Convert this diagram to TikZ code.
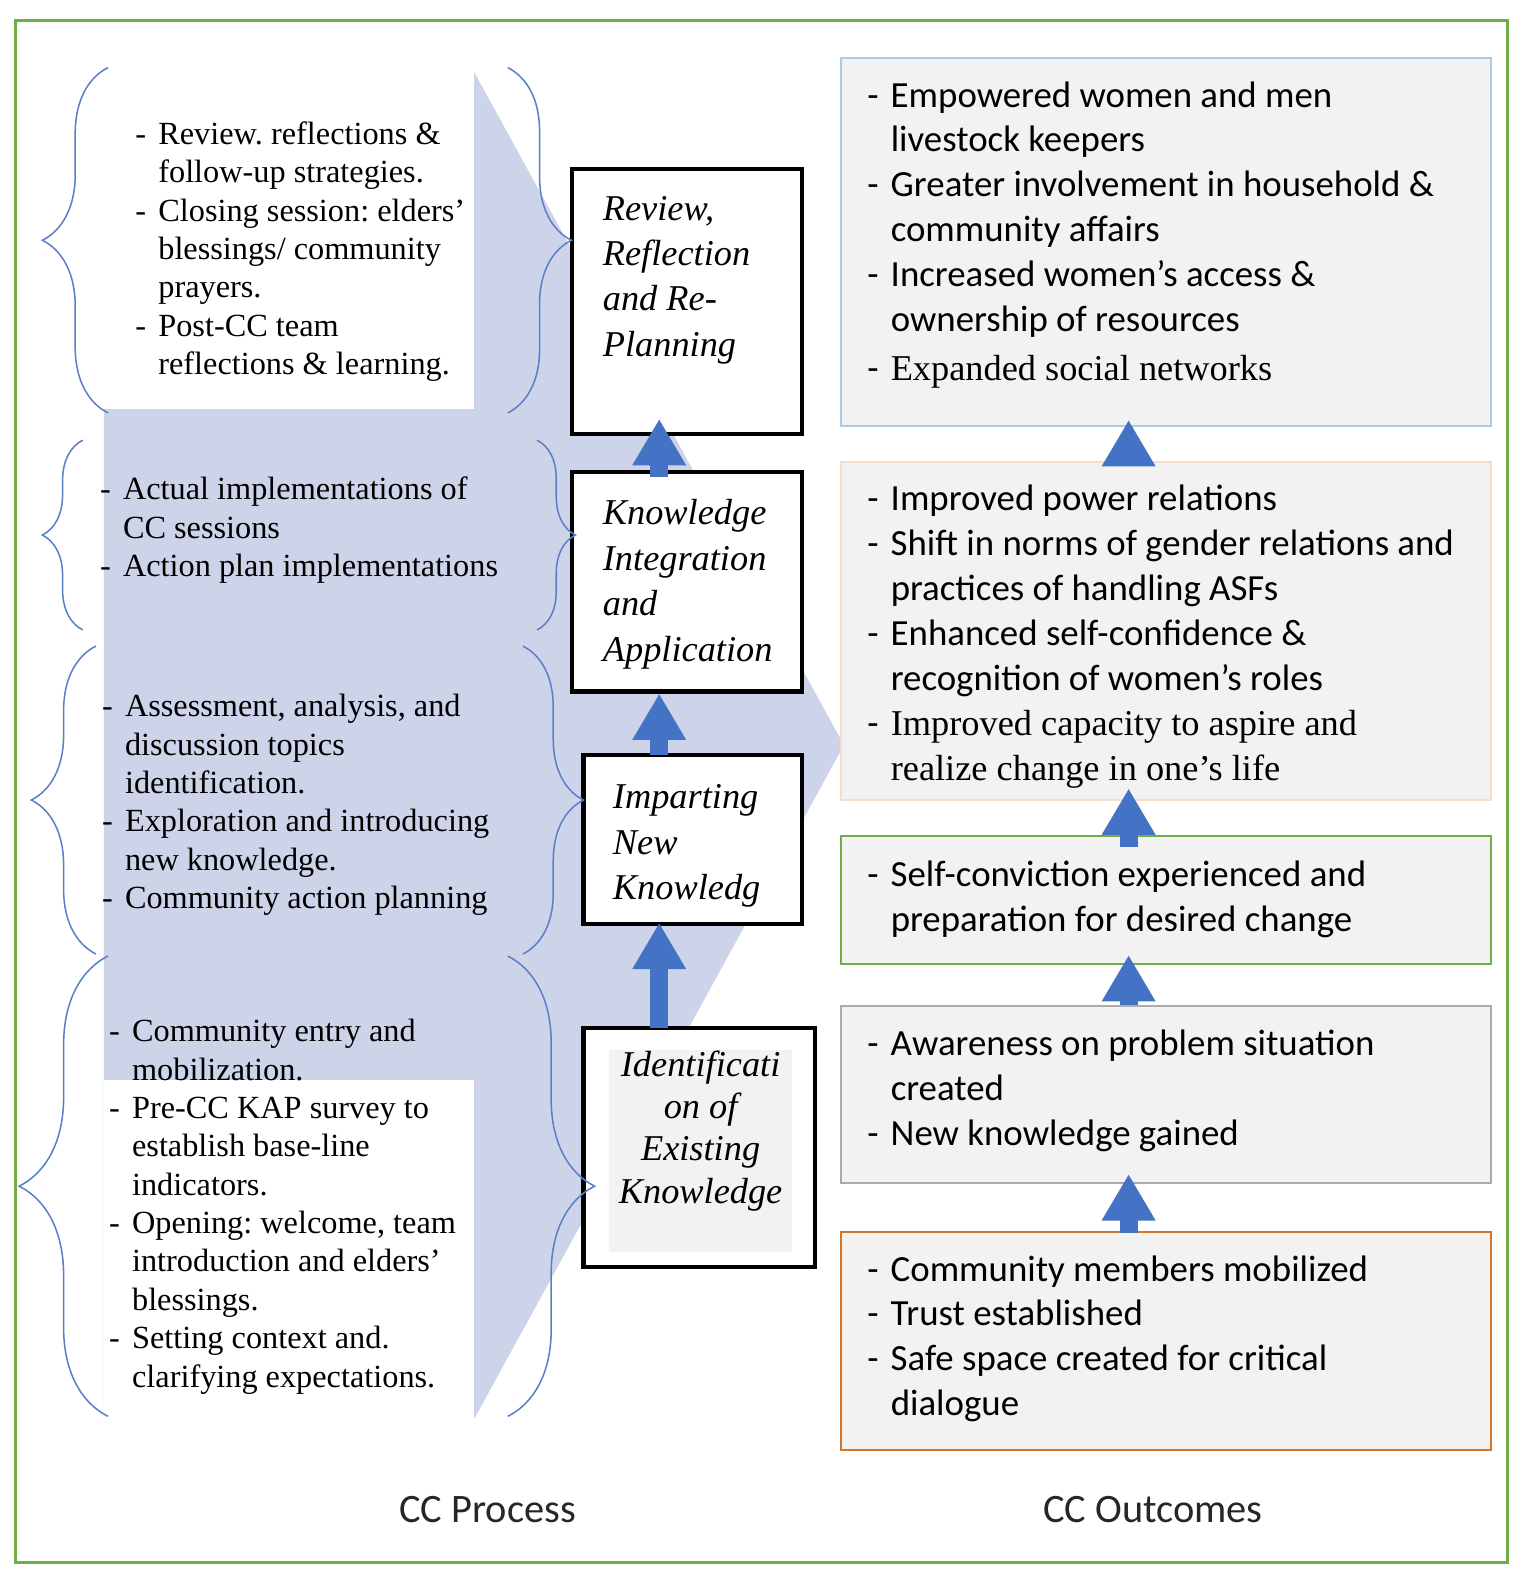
\documentclass[tikz,border=0pt]{standalone}
\usepackage{fontspec}
\setmainfont{Liberation Serif}
\newfontfamily\calfont{Carlito}
\usepackage{tikz}
\usetikzlibrary{arrows.meta,calc,decorations.pathreplacing}
\frenchspacing

\definecolor{chevfill}{HTML}{CDD4EA}
\definecolor{arrowblue}{HTML}{4472C4}
\definecolor{braceblue}{HTML}{5B7FC7}
\definecolor{framegreen}{HTML}{70AD47}
\definecolor{boxgray}{HTML}{F2F2F2}
\definecolor{lineblue}{HTML}{A9CBE6}
\definecolor{linepeach}{HTML}{F6DCCB}
\definecolor{linegray}{HTML}{ABABAB}
\definecolor{lineorange}{HTML}{D0772F}

\begin{document}
\begin{tikzpicture}[x=1pt, y=-1pt, >=Latex,
	lefttxt/.style={anchor=base west, inner sep=0pt, font=\fontsize{32}{38}\selectfont},
	righttxt/.style={anchor=base west, inner sep=0pt, font=\calfont\fontsize{36.5}{44.5}\selectfont},
	stagebox/.style={draw=black, line width=4pt, fill=white, inner sep=0pt},
	stagetxt/.style={anchor=base west, inner sep=0pt, font=\itshape\fontsize{36}{45}\selectfont},
	outbox/.style={fill=boxgray, line width=2pt, inner sep=0pt, minimum width=644pt},
	uparrow/.style={draw=arrowblue, line width=18pt, -{Triangle[width=50pt,length=46pt]}},
	bracel/.style={draw=braceblue, line width=1.5pt, decorate, decoration={brace, amplitude=#1}},
	label/.style={font=\calfont\fontsize{40}{48}\selectfont, text=black!85}]
	
	% ----- page and frame
	\fill[white] (0,0) rectangle (1520.6,1568.1);
	\useasboundingbox (0,0) rectangle (1520.6,1568.1);
	\draw[framegreen, line width=3pt] (15,20) rectangle (1493,1548);
	
	% ----- LEFT: process chevron with the two white text panels
	\fill[chevfill] (103,72) -- (470,72) -- (836,738) -- (470,1405) -- (103,1405) -- cycle;
	\fill[white] (75,60) rectangle (470,405);
	\fill[white] (103,1070) rectangle (470,1410);
	
	% stage boxes
	\node[stagebox, minimum width=227pt, minimum height=263pt] (rev) at (680.5,298.5) {};
	\node[stagebox, minimum width=227pt, minimum height=217pt] (kia) at (680.5,576.5) {};
	\node[stagebox, minimum width=216pt, minimum height=167pt] (inf) at (686,831.5) {};
	\node[stagebox, minimum width=229pt, minimum height=237pt] (ide) at (692.5,1136.5) {};
	\fill[boxgray] (603,1040) rectangle (785,1240);
	
	\node[stagetxt] (revtxt) at (597,218) {\begin{tabular}[t]{@{}l@{}}
			Review,\\ Reflection\\ and Re-\\ Planning\end{tabular}};
	\node[stagetxt] (kiatxt) at (597,520) {\begin{tabular}[t]{@{}l@{}}
			Knowledge\\ Integration\\ and\\ Application\end{tabular}};
	\node[stagetxt] (inftxt) at (607,801) {\begin{tabular}[t]{@{}l@{}}
			Imparting\\ New\\ Knowledg\end{tabular}};
	\node[stagetxt, anchor=base, font=\itshape\fontsize{36}{42}\selectfont] (idetxt) at (694,1066)
	{\begin{tabular}[t]{@{}c@{}}
			Identificati\\ on of\\ Existing\\ Knowledge\end{tabular}};
	
	% braces round each group of activities
	\draw[bracel=65pt] (107,409) -- (107,67);
	\draw[bracel=63pt] (503,67) -- (503,409);
	\draw[bracel=40pt] (82,624) -- (82,436);
	\draw[bracel=38pt] (532,436) -- (532,624);
	\draw[bracel=64pt] (95,945) -- (95,640);
	\draw[bracel=60pt] (518,640) -- (518,945);
	\draw[bracel=88pt] (107,1403) -- (107,947);
	\draw[bracel=86pt] (503,947) -- (503,1403);
	
	% activity lists
	\node[lefttxt] (acta) at (134,143) {\begin{tabular}[t]{@{}l@{\hspace{12pt}}l@{}}
			-& Review. reflections \&\\
			& follow-up strategies.\\
			-& Closing session: elders’\\
			& blessings/ community\\
			& prayers.\\
			-& Post-CC team\\
			& reflections \& learning.\end{tabular}};
	\node[lefttxt] (actb) at (99,495) {\begin{tabular}[t]{@{}l@{\hspace{12pt}}l@{}}
			-& Actual implementations of\\
			& CC sessions\\
			-& Action plan implementations\end{tabular}};
	\node[lefttxt] (actc) at (101,710) {\begin{tabular}[t]{@{}l@{\hspace{12pt}}l@{}}
			-& Assessment, analysis, and\\
			& discussion topics\\
			& identification.\\
			-& Exploration and introducing\\
			& new knowledge.\\
			-& Community action planning\end{tabular}};
	\node[lefttxt] (actd) at (108,1032) {\begin{tabular}[t]{@{}l@{\hspace{12pt}}l@{}}
			-& Community entry and\\
			& mobilization.\\
			-& Pre-CC KAP survey to\\
			& establish base-line\\
			& indicators.\\
			-& Opening: welcome, team\\
			& introduction and elders’\\
			& blessings.\\
			-& Setting context and.\\
			& clarifying expectations.\end{tabular}};
	
	% arrows between the stages
	\coordinate (axL) at (653,0);
	\draw[uparrow, shorten >=-17pt, shorten <=-7pt] (kia.north -| axL) -- (rev.south -| axL);
	\draw[uparrow, shorten >=0pt, shorten <=-2pt] (inf.north -| axL) -- (kia.south -| axL);
	\draw[uparrow, shorten >=-3pt, shorten <=-2pt] (ide.north -| axL) -- (inf.south -| axL);
	
	% ----- RIGHT: outcome boxes
	\node[outbox, draw=lineblue, minimum height=365pt] (outa) at (1155,239.5) {};
	\node[outbox, draw=linepeach, minimum height=334pt] (outb) at (1155,625) {};
	\node[outbox, draw=framegreen, minimum height=127pt] (outc) at (1155,891.5) {};
	\node[outbox, draw=linegray, minimum height=175pt] (outd) at (1155,1084.5) {};
	\node[outbox, draw=lineorange, minimum height=216pt] (oute) at (1155,1328) {};
	
	\node[righttxt] (resa) at (859,106) {\begin{tabular}[t]{@{}l@{\hspace{12pt}}l@{}}
			-& Empowered women and men\\
			& livestock keepers\\
			-& Greater involvement in household \&\\
			& community affairs\\
			-& Increased women’s access \&\\
			& ownership of resources\\[4pt]
			-& {\rmfamily\fontsize{36}{44.5}\selectfont Expanded social networks}\end{tabular}};
	\node[righttxt] (resb) at (859,506) {\begin{tabular}[t]{@{}l@{\hspace{12pt}}l@{}}
			-& Improved power relations\\
			-& Shift in norms of gender relations and\\
			& practices of handling ASFs\\
			-& Enhanced self-confidence \&\\
			& recognition of women’s roles\\
			-& {\rmfamily\fontsize{36}{44.5}\selectfont Improved capacity to aspire and}\\
			& {\rmfamily\fontsize{36}{44.5}\selectfont realize change in one’s life}\end{tabular}};
	\node[righttxt] (resc) at (859,878) {\begin{tabular}[t]{@{}l@{\hspace{12pt}}l@{}}
			-& Self-conviction experienced and\\
			& preparation for desired change\end{tabular}};
	\node[righttxt] (resd) at (859,1046) {\begin{tabular}[t]{@{}l@{\hspace{12pt}}l@{}}
			-& Awareness on problem situation\\
			& created\\
			-& New knowledge gained\end{tabular}};
	\node[righttxt] (rese) at (859,1269) {\begin{tabular}[t]{@{}l@{\hspace{12pt}}l@{}}
			-& Community members mobilized\\
			-& Trust established\\
			-& Safe space created for critical\\
			& dialogue\end{tabular}};
	
	% arrows between the outcomes
	\coordinate (axR) at (1118,0);
	\draw[uparrow, shorten >=-7pt, shorten <=-20pt] (outb.north -| axR) -- (outa.south -| axR);
	\draw[uparrow, shorten >=-12pt, shorten <=-12pt] (outc.north -| axR) -- (outb.south -| axR);
	\draw[uparrow, shorten >=-10pt] (outd.north -| axR) -- (outc.south -| axR);
	\draw[uparrow, shorten >=-10pt, shorten <=-2pt] (oute.north -| axR) -- (outd.south -| axR);
	
	% ----- captions
	\node[label] (proc) at (483,1495) {CC Process};
	\node[label] (outc-cap) at (1142,1495) {CC Outcomes};
	
\end{tikzpicture}
\end{document}
